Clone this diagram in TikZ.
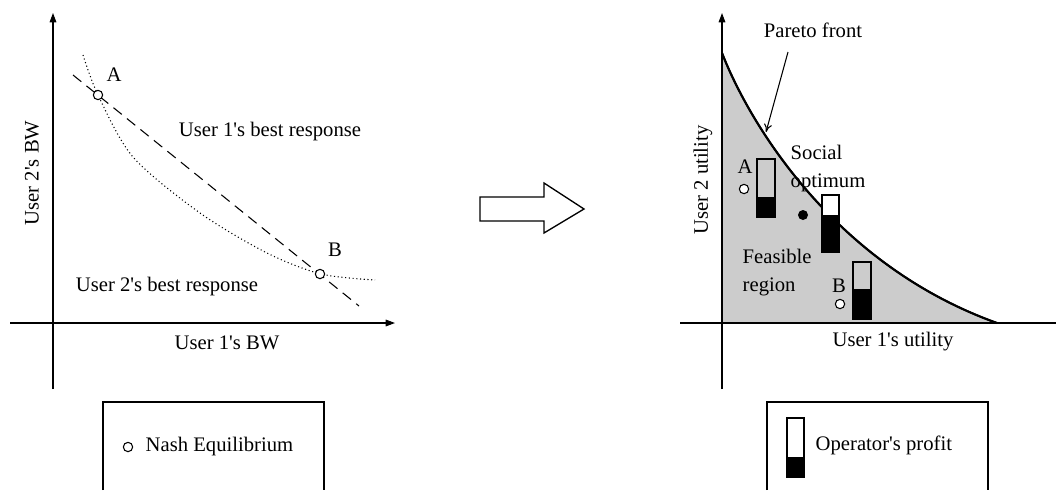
\documentclass[tikz,border=0pt]{standalone}
\usepackage{fontspec}
\setmainfont{Liberation Serif}
\usetikzlibrary{arrows.meta}
\definecolor{feasgray}{RGB}{204,204,204}
\newcommand{\aps}{\textquotesingle}
\begin{document}
\begin{tikzpicture}[x=0.75pt,y=-0.75pt,
    font=\fontsize{15.5}{21}\selectfont,
    axis/.style={line width=0.8pt,-{Triangle[length=7pt,width=5pt]}},
    eqpt/.style={circle,draw,fill=white,line width=0.8pt,inner sep=0pt,minimum size=7pt},
    barbox/.style={draw,line width=1pt}]
    \useasboundingbox (0,0) rectangle (1056,490);
    % left: best responses
    \draw[axis] (53,389) -- (53,13);
    \draw[axis] (10,323) -- (395,323);
    \draw[dotted,line width=0.8pt] plot[smooth] coordinates {(83,55) (98,95) (133,157) (200,213) (267,253) (321,274) (375,280)};
    \draw[dash pattern=on 8pt off 5pt,line width=0.8pt] (73,75) -- (359,306);
    \node[eqpt] (eqA) at (98,95) {};
    \node[eqpt] (eqB) at (320,274) {};
    \node (labA) at (114,75) {A};
    \node (labB) at (335,250) {B};
    \node (br1) at (270,132) {User 1\aps s best response};
    \node (br2) at (167,287) {User 2\aps s best response};
    \node (bw1) at (227,343) {User 1\aps s BW};
    \node[rotate=90] (bw2) at (32,173) {User 2\aps s BW};
    \draw[line width=0.8pt] (103,490) -- (103,402) -- (324,402) -- (324,490);
    \node[eqpt] (keyEq) at (128,447) {};
    \node[anchor=west] (keyEqTxt) at (141,447) {Nash Equilibrium};
    % middle arrow
    \draw[line width=1pt] (480,197) -- (544,197) -- (544,183) -- (584,209) -- (544,233) -- (544,221) -- (480,221) -- cycle;
    % right: utilities
    \filldraw[fill=feasgray,line width=1.3pt] (722,323) -- (722,53) .. controls (750,125) and (835,265) .. (997,323) -- cycle;
    \draw[line width=1.6pt] (722,53) .. controls (750,125) and (835,265) .. (997,323);
    \draw[axis] (722,389) -- (722,13);
    \draw[line width=0.8pt] (680,323) -- (1056,323);
    \node (pf) at (813,30) {Pareto front};
    \coordinate (pfTail) at (788,52);
    \coordinate (pfHead) at (766,132);
    \draw[line width=0.8pt,-{To[length=6pt,width=6pt]}] (pfTail) -- (pfHead);
    \node[rotate=90] (u2) at (703,180) {User 2 utility};
    \node (u1) at (893,342) {User 1\aps s utility};
    \node (labA2) at (745,167) {A};
    \node[eqpt] (eqA2) at (744,189) {};
    \node (labB2) at (839,286) {B};
    \node[eqpt] (eqB2) at (840,304) {};
    \node[circle,fill,inner sep=0pt,minimum size=7.5pt] (so) at (803,215) {};
    \node[anchor=west,align=left] (soTxt) at (786,169) {Social\\optimum};
    \node[anchor=west,align=left] (feas) at (738,273) {Feasible\\region};
    \fill (757,197) rectangle (775,217);
    \draw[barbox] (757,159) rectangle (775,217);
    \filldraw[fill=white,line width=1pt] (822,195) rectangle (839,252);
    \fill (822,215) rectangle (839,252);
    \draw[barbox] (822,195) rectangle (839,252);
    \fill (853,289) rectangle (871,319);
    \draw[barbox] (853,262) rectangle (871,319);
    \draw[line width=0.8pt] (767,490) -- (767,402) -- (988,402) -- (988,490);
    \fill (787,457) rectangle (804,477);
    \draw[barbox] (787,418) rectangle (804,477);
    \node[anchor=west] (keyBarTxt) at (811,445) {Operator\aps s profit};
\end{tikzpicture}
\end{document}
